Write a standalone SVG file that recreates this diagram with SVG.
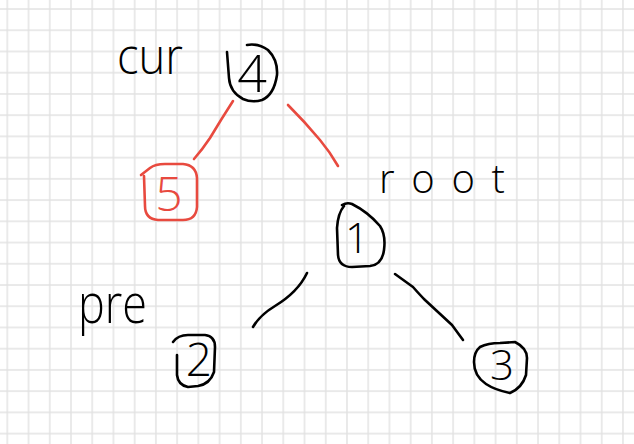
<svg xmlns="http://www.w3.org/2000/svg" width="634" height="444" viewBox="0 0 634 444">
<defs>
<pattern id="grid" patternUnits="userSpaceOnUse" x="-3.3" y="-1.6" width="21.23" height="21.23">
<path d="M10.6,0 V21.23 M0,10.6 H21.23" stroke="#e2e2e2" stroke-width="1.4" fill="none"/>
</pattern>
<style>
.ink{fill:none;stroke:#000;stroke-width:2.6;stroke-linecap:round;stroke-linejoin:round}
.red{fill:none;stroke:#e84a3f;stroke-width:2.6;stroke-linecap:round;stroke-linejoin:round}
.lbl{font-family:"Open Sans","Liberation Sans",sans-serif;font-weight:300;fill:#000}
.dig{font-family:"Open Sans","Liberation Sans",sans-serif;font-weight:300;text-anchor:middle}
</style>
</defs>
<rect width="634" height="444" fill="#fff"/>
<rect width="634" height="444" fill="url(#grid)"/>
<g id="connectors">
<path class="red" d="M233,101 Q222,118 210,138 Q202,150 194,159"/>
<path class="red" d="M288,105 Q305,122 320,140 Q330,152 338,166"/>
<path class="ink" d="M307,273 Q298,292 275,306 Q260,315 253,327"/>
<path class="ink" d="M395,274 L413,287 Q420,295 425,300 L452,325 L463,340"/>
</g>
<g id="node4">
<path class="ink" d="M247,45 Q258,43 268,50 Q278,60 277,75 Q274,95 262,100 Q252,103 243,99 Q230,92 229,78 L227,52"/>
<text class="dig" x="252" y="92" font-size="52" fill="#000">4</text>
</g>
<g id="node5">
<path class="red" d="M141,175 L150,168 Q155,164 165,164 L183,164 Q196,165 197,178 L197,207 Q196,220 183,220 L158,220 Q145,219 145,206 L144,176"/>
<text class="dig" x="169" y="211" font-size="48" fill="#e84a3f">5</text>
</g>
<g id="node1">
<path class="ink" d="M342,205 Q347,202 352,204 Q368,212 380,226 Q386,235 384,250 Q382,265 370,266 L352,267 Q339,267 338,255 L337,228 Q338,213 344,206"/>
<text class="dig" x="357" y="253" font-size="42" fill="#000">1</text>
</g>
<g id="node2">
<path class="ink" d="M173,342 Q178,335 188,335 L205,335 Q215,336 215,347 L214,372 Q210,384 198,386 L188,387 Q178,385 177,375 L177,355"/>
<text class="dig" x="199" y="376" font-size="46" fill="#000">2</text>
</g>
<g id="node3">
<path class="ink" d="M480,347 Q488,343 500,343 L515,342 Q527,348 527,358 L526,375 Q522,388 510,393 Q495,390 486,384 Q474,376 474,362 Q474,352 480,347 Z"/>
<text class="dig" x="502" y="380" font-size="42" fill="#000">3</text>
</g>
<g id="labels">
<text class="lbl" x="117" y="74" font-size="50" textLength="66" lengthAdjust="spacingAndGlyphs">cur</text>
<text class="lbl" x="379" y="193" font-size="40" textLength="126" lengthAdjust="spacing">root</text>
<text class="lbl" x="78" y="323" font-size="55" textLength="69" lengthAdjust="spacingAndGlyphs">pre</text>
</g>
</svg>
